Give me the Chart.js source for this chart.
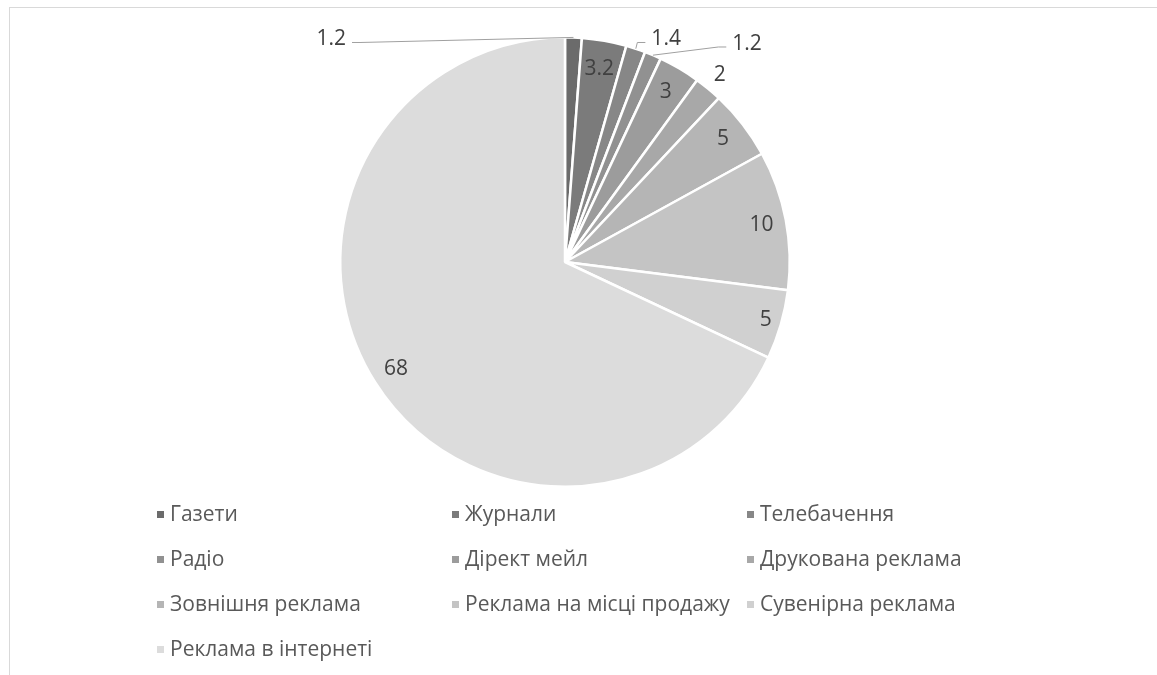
<!DOCTYPE html>
<html lang="uk">
<head>
<meta charset="utf-8">
<script src="https://cdn.jsdelivr.net/npm/chart.js@4"></script>
<style>
  html, body { margin: 0; padding: 0; background: #fff; }
  body { width: 1157px; height: 675px; position: relative; overflow: hidden; font-family: "Open Sans", "Noto Sans", sans-serif; }
  #frame { position: absolute; left: 9px; top: 7px; width: 1200px; height: 700px; border: 1px solid #d9d9d9; }
  #chart { position: absolute; left: 0; top: 0; }
  #legend { position: absolute; left: 155px; top: 491px; display: grid; grid-template-columns: 295px 295px 295px; }
  #legend .item { height: 45px; line-height: 45px; font-size: 21px; color: #595959; white-space: nowrap; }
  #legend .box { display: inline-block; width: 7px; height: 7px; margin: 0 6px 0 2px; vertical-align: middle; position: relative; top: -1px; }
</style>
</head>
<body>
<div id="frame"></div>
<canvas id="chart" width="1157" height="675"></canvas>
<div id="legend"></div>
<script>
const labels = ['Газети', 'Журнали', 'Телебачення', 'Радіо', 'Дірект мейл', 'Друкована реклама',
  'Зовнішня реклама', 'Реклама на місці продажу', 'Сувенірна реклама', 'Реклама в інтернеті']
const values = [1.2, 3.2, 1.4, 1.2, 3, 2, 5, 10, 5, 68]
const colors = ['#6b6b6b', '#7b7b7b', '#878787', '#919191', '#9c9c9c', '#a8a8a8',
  '#b5b5b5', '#c4c4c4', '#d0d0d0', '#dcdcdc']

// where each value label goes: r = fraction of radius along the slice middle,
// dx/dy = offset from centre in radii, with a leader line back to the slice
const labelPlace = [
  { dx: -1.04, dy: -0.99, leader: true },
  { r: 0.87 },
  { dx: 0.45, dy: -0.99, leader: true },
  { dx: 0.81, dy: -0.97, leader: true },
  { r: 0.88 },
  { r: 1.08 },
  { r: 0.89 },
  { r: 0.89 },
  { r: 0.93 },
  { r: 0.89 },
]

const valueLabels = {
  id: 'valueLabels',
  afterDatasetsDraw(chart) {
    const ctx = chart.ctx
    const meta = chart.getDatasetMeta(0)
    ctx.save()
    ctx.font = '21px "Open Sans", "Noto Sans", sans-serif'
    ctx.fillStyle = '#404040'
    ctx.textAlign = 'center'
    ctx.textBaseline = 'middle'
    meta.data.forEach((arc, i) => {
      const p = arc.getProps(['x', 'y', 'startAngle', 'endAngle', 'outerRadius'], true)
      const mid = (p.startAngle + p.endAngle) / 2
      const R = p.outerRadius
      const place = labelPlace[i]
      const text = String(values[i])
      if (place.leader) {
        const tx = p.x + place.dx * R
        const ty = p.y + place.dy * R
        const ax = p.x + Math.cos(mid) * R
        const ay = p.y + Math.sin(mid) * R
        const half = ctx.measureText(text).width / 2
        const dir = tx < ax ? 1 : -1
        const bx = tx + dir * (half + 6)
        const by = ty + 3
        ctx.strokeStyle = '#a0a0a0'
        ctx.lineWidth = 1
        ctx.beginPath()
        ctx.moveTo(ax, ay)
        ctx.lineTo(bx + dir * 8, by)
        ctx.lineTo(bx, by)
        ctx.stroke()
        ctx.fillText(text, tx, ty)
      } else {
        const r = place.r * R
        ctx.fillText(text, p.x + Math.cos(mid) * r, p.y + Math.sin(mid) * r)
      }
    })
    ctx.restore()
  },
}

new Chart('chart', {
  type: 'pie',
  data: {
    labels: labels,
    datasets: [
      {
        data: values,
        backgroundColor: colors,
        borderColor: '#ffffff',
        borderWidth: 2.5,
      },
    ],
  },
  options: {
    responsive: false,
    animation: false,
    events: [],
    layout: { padding: { left: 339, right: 366, top: 36, bottom: 187 } },
    plugins: {
      legend: { display: false },
      tooltip: { enabled: false },
    },
  },
  plugins: [valueLabels],
})

// legend in three columns, same order as the slices
const legendEl = document.getElementById('legend')
labels.forEach((name, i) => {
  const item = document.createElement('div')
  item.className = 'item'
  const box = document.createElement('span')
  box.className = 'box'
  box.style.background = colors[i]
  item.appendChild(box)
  item.appendChild(document.createTextNode(name))
  legendEl.appendChild(item)
})
</script>
</body>
</html>
